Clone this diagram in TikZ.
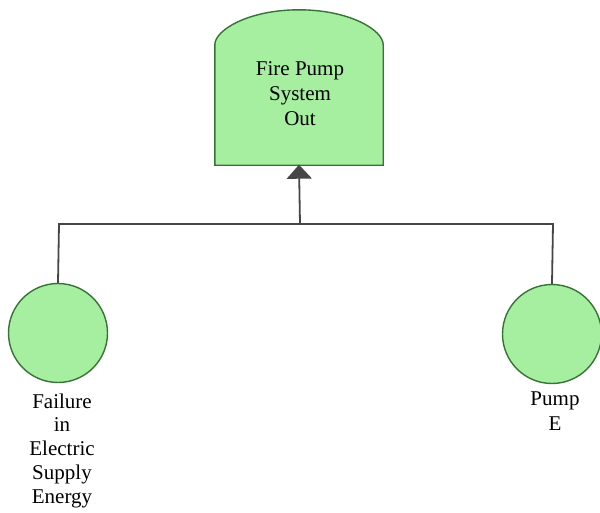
\documentclass[tikz,border=0pt]{standalone}
\usepackage{fontspec}
\setmainfont{Liberation Serif}
\usetikzlibrary{arrows.meta}
\definecolor{evfill}{RGB}{166,238,160}
\definecolor{evborder}{RGB}{55,115,55}
\definecolor{wire}{RGB}{70,70,70}
\begin{document}
\begin{tikzpicture}[x=1pt,y=-1pt,
  event/.style={circle,fill=evfill,draw=evborder,line width=1.4pt,minimum size=99pt,inner sep=0pt},
  gatebox/.style={fill=evfill,draw=evborder,line width=1.4pt},
  lbl/.style={align=center,inner sep=0pt,font=\fontsize{21pt}{24pt}\selectfont},
  wireline/.style={draw=wire,line width=1.8pt},
  uparrow/.style={-{Triangle[width=25pt,length=14pt]}}]
\useasboundingbox (0,0) rectangle (600,512);
% top event
\node[minimum width=168pt,minimum height=155pt,inner sep=0pt] (top) at (299,87.5) {};
\path[gatebox] (top.south west) -- ([yshift=-35pt]top.west |- top.north)
  .. controls ([yshift=-20pt]top.north west) and ([xshift=-50pt]top.north) .. (top.north)
  .. controls ([xshift=50pt]top.north) and ([yshift=-20pt]top.north east) .. ([yshift=-35pt]top.east |- top.north)
  -- (top.south east) -- cycle;
\node[lbl,anchor=base,font=\fontsize{21pt}{25pt}\selectfont] (toptext) at (300,125) {Fire Pump\\System\\Out};
% basic events
\node[event] (left) at (58,333) {};
\node[event] (right) at (552,334) {};
\node[lbl,anchor=base,font=\fontsize{21pt}{23.75pt}\selectfont] (lefttext) at (62,503) {Failure\\in\\Electric\\Supply\\Energy};
\node[lbl,anchor=base,font=\fontsize{21pt}{25pt}\selectfont] (righttext) at (555,430) {Pump\\E};
% connectors
\coordinate (j) at (300,224);
\coordinate (jl) at (59,224);
\coordinate (jr) at (553,224);
\draw[wireline] (left.north) -- (jl) -- (jr) -- (right.north);
\draw[wireline,uparrow,shorten >=-0.5pt] (j) -- (top.south);
\end{tikzpicture}
\end{document}
